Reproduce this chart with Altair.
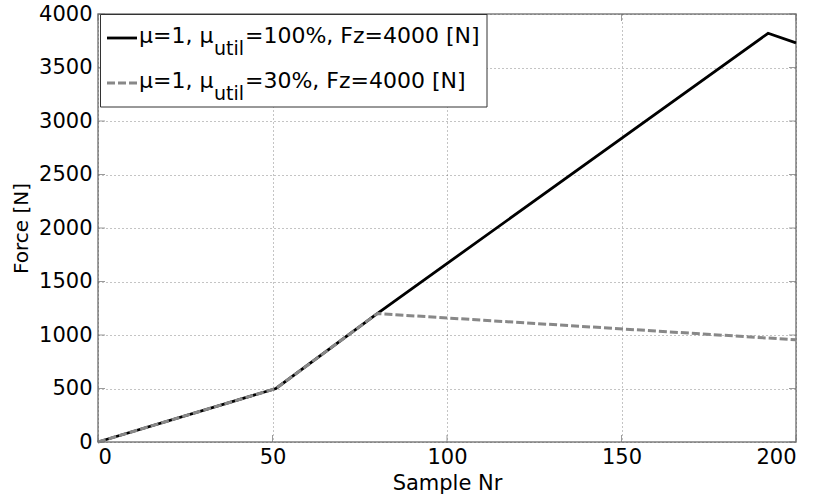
import altair as alt
import pandas as pd

# ---- data ----
sample_full = [0, 51, 80, 192, 200]
force_full = [0, 500, 1200, 3820, 3730]
sample_part = [0, 51, 80, 200]
force_part = [0, 500, 1200, 955]

x_ticks = [0, 50, 100, 150, 200]
y_ticks = [0, 500, 1000, 1500, 2000, 2500, 3000, 3500, 4000]

legend_main = ["μ=1, μ", "μ=1, μ"]
legend_sub = ["util", "util"]
legend_rest = ["=100%, Fz=4000 [N]", "=30%, Fz=4000 [N]"]

FONT = "DejaVu Sans"
W, H = 698, 428

df_full = pd.DataFrame({"Sample": sample_full, "Force": force_full})
df_part = pd.DataFrame({"Sample": sample_part, "Force": force_part})
df_xt = pd.DataFrame({"t": x_ticks})
df_yt = pd.DataFrame({"t": y_ticks})
one = pd.DataFrame({"k": [0]})

xscale = alt.Scale(domain=[0, 200], nice=False, zero=False)
yscale = alt.Scale(domain=[0, 4000], nice=False)

x_enc = alt.X("Sample:Q", scale=xscale,
              axis=alt.Axis(values=x_ticks, title="Sample Nr", grid=True,
                            format="d", ticks=False, domain=False,
                            labelPadding=4, titlePadding=5, titleFontSize=21))
y_enc = alt.Y("Force:Q", scale=yscale,
              axis=alt.Axis(values=y_ticks, title="Force [N]", grid=True,
                            format="d", ticks=False, domain=False,
                            labelPadding=6, titlePadding=7))

line_full = alt.Chart(df_full).mark_line(color="black", strokeWidth=2.8).encode(
    x=x_enc, y=y_enc)
line_part = alt.Chart(df_part).mark_line(
    color="#888888", strokeWidth=3, strokeDash=[8, 3]).encode(
    x=alt.X("Sample:Q", scale=xscale), y=alt.Y("Force:Q", scale=yscale))

tick_color = "#707070"
xt_bot = alt.Chart(df_xt).mark_tick(orient="vertical", size=7, thickness=1,
                                    color=tick_color).encode(
    x=alt.X("t:Q", scale=xscale), y=alt.value(H - 3.5))
xt_top = alt.Chart(df_xt).mark_tick(orient="vertical", size=7, thickness=1,
                                    color=tick_color).encode(
    x=alt.X("t:Q", scale=xscale), y=alt.value(3.5))
yt_left = alt.Chart(df_yt).mark_tick(orient="horizontal", size=7, thickness=1,
                                     color=tick_color).encode(
    y=alt.Y("t:Q", scale=yscale), x=alt.value(3.5))
yt_right = alt.Chart(df_yt).mark_tick(orient="horizontal", size=7, thickness=1,
                                      color=tick_color).encode(
    y=alt.Y("t:Q", scale=yscale), x=alt.value(W - 3.5))

# ---- legend ----
leg_box = alt.Chart(one).mark_rect(fill="white", stroke="#333333",
                                   strokeWidth=1).encode(
    x=alt.value(2.5), x2=alt.value(389), y=alt.value(0.5), y2=alt.value(93))
leg_l1 = alt.Chart(one).mark_rule(color="black", strokeWidth=2.8).encode(
    x=alt.value(9), x2=alt.value(39), y=alt.value(24))
leg_l2 = alt.Chart(one).mark_rule(color="#888888", strokeWidth=3,
                                  strokeDash=[8, 3]).encode(
    x=alt.value(9), x2=alt.value(39), y=alt.value(69))

rows_y = [29, 74]
leg_texts = []
for i in range(2):
    by = rows_y[i]
    leg_texts.append(alt.Chart(one).mark_text(
        align="left", baseline="alphabetic", font=FONT, fontSize=22,
        color="black").encode(
        x=alt.value(41), y=alt.value(by), text=alt.value(legend_main[i])))
    leg_texts.append(alt.Chart(one).mark_text(
        align="left", baseline="alphabetic", font=FONT, fontSize=19,
        color="black").encode(
        x=alt.value(116), y=alt.value(by + 12), text=alt.value(legend_sub[i])))
    leg_texts.append(alt.Chart(one).mark_text(
        align="left", baseline="alphabetic", font=FONT, fontSize=22,
        color="black").encode(
        x=alt.value(147), y=alt.value(by), text=alt.value(legend_rest[i])))

chart = alt.layer(line_full, line_part, xt_bot, xt_top, yt_left, yt_right,
                  leg_box, leg_l1, leg_l2, *leg_texts).properties(
    width=W, height=H,
    autosize=alt.AutoSizeParams(type="none"),
    padding={"left": 98, "top": 14, "right": 23, "bottom": 58},
    background="white",
).configure_view(
    stroke="#808080", strokeWidth=1.5
).configure_axis(
    labelFont=FONT, labelFontSize=21, labelColor="black",
    titleFont=FONT, titleFontSize=20, titleColor="black",
    titleFontWeight="normal",
    gridColor="#555555", gridDash=[1, 3], gridWidth=1, gridOpacity=0.7,
)

chart.save("out.html", embed_options={"renderer": "svg", "actions": False})
